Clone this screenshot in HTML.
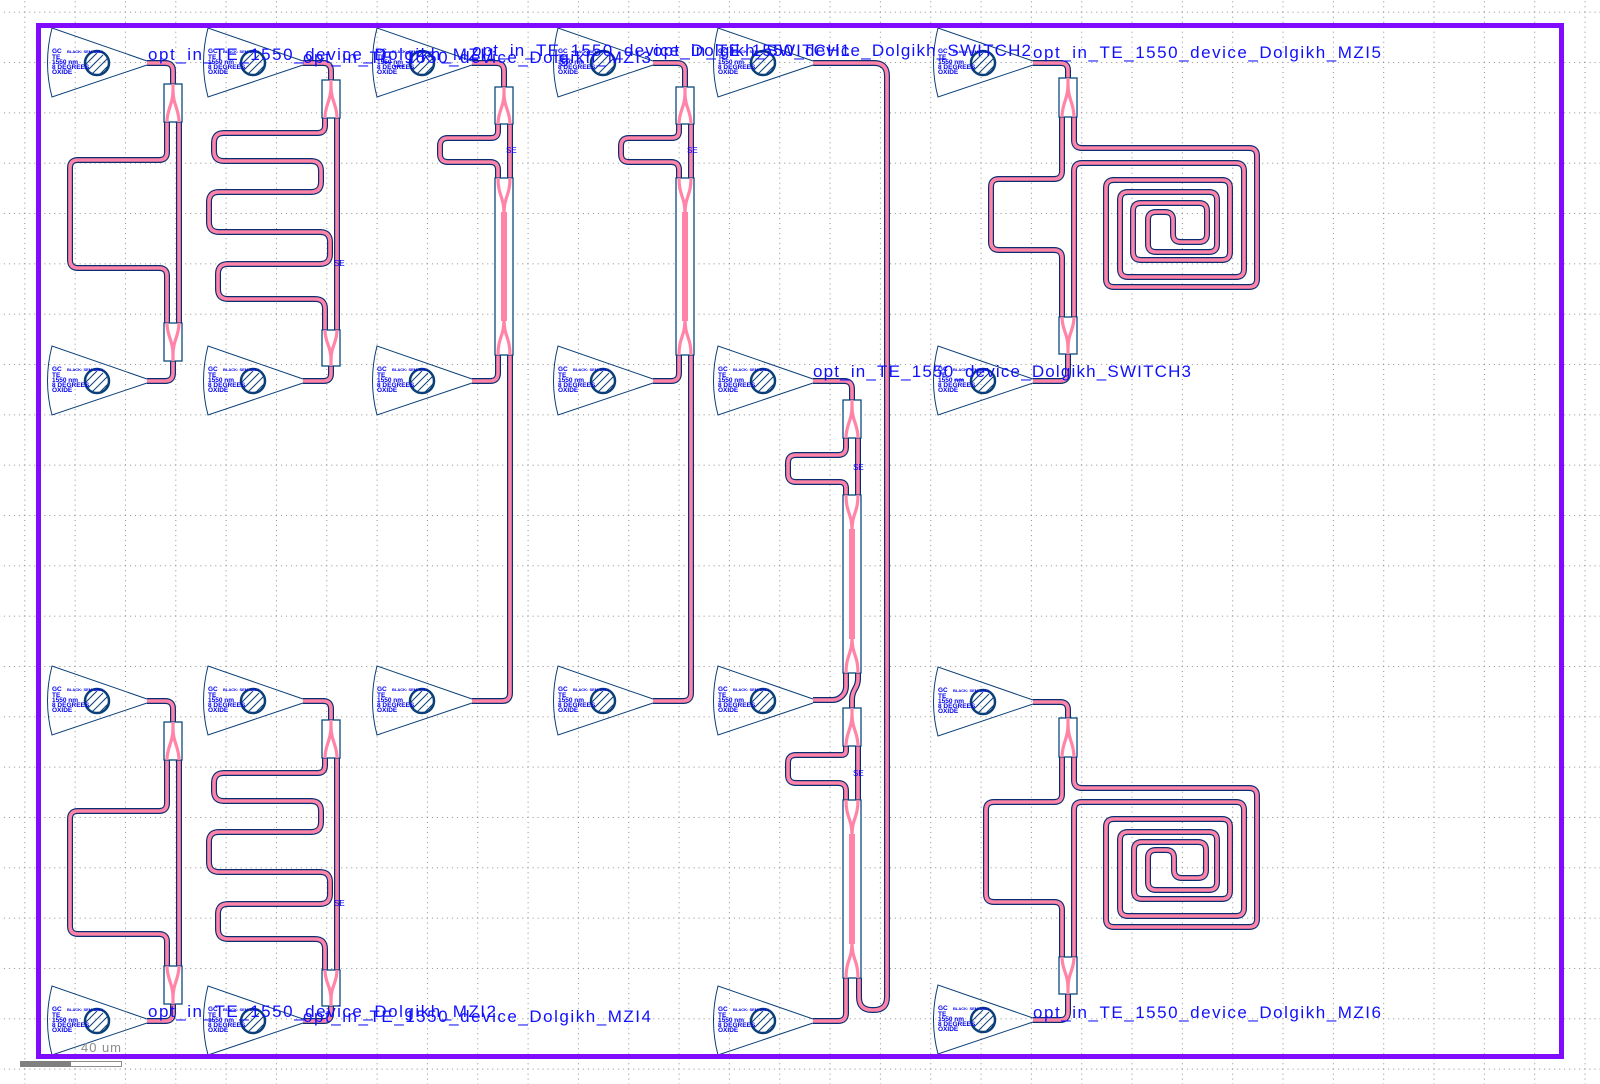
<!DOCTYPE html>
<html><head><meta charset="utf-8">
<style>
html,body{margin:0;padding:0;background:#fff;}
svg{display:block;}
.lbl{font-family:"Liberation Sans",sans-serif;font-size:17px;fill:#1010ff;}
.g1{font-family:"Liberation Sans",sans-serif;font-size:6.5px;font-weight:bold;fill:#0000ee;}
.g2{font-family:"Liberation Sans",sans-serif;font-size:4px;font-weight:bold;fill:#0000ee;}
.se{font-family:"Liberation Sans",sans-serif;font-size:8px;fill:#0000ff;}
</style></head>
<body>
<svg id="s" width="1600" height="1084" viewBox="0 0 1600 1084" xmlns="http://www.w3.org/2000/svg">
<defs>
<pattern id="grid" patternUnits="userSpaceOnUse" x="24.3" y="11.7" width="50.33" height="50.33">
<line x1="0" y1="0.5" x2="50.33" y2="0.5" stroke="#8a8a8a" stroke-width="1" stroke-dasharray="1 4"/>
<line x1="0.5" y1="0" x2="0.5" y2="50.33" stroke="#8a8a8a" stroke-width="1" stroke-dasharray="1 4"/>
</pattern>
<clipPath id="cc"><circle cx="-50" cy="0" r="11"/></clipPath>
<g id="gc">
<path d="M0,-2 L-95,-35 Q-104,0 -95,34 L0,2" fill="none" stroke="#0b3f78" stroke-width="1"/>
<g clip-path="url(#cc)" stroke="#0b3f78" stroke-width="1">
<line x1="-70" y1="10" x2="-50" y2="-10"/><line x1="-64" y1="12" x2="-44" y2="-8"/>
<line x1="-58" y1="14" x2="-38" y2="-6"/><line x1="-52" y1="16" x2="-32" y2="-4"/>
<line x1="-76" y1="8" x2="-56" y2="-12"/><line x1="-46" y1="18" x2="-26" y2="-2"/>
</g>
<circle cx="-50" cy="0" r="12" fill="none" stroke="#0b3f78" stroke-width="2.5"/>
</g>
</defs>
<rect x="0" y="0" width="1600" height="1084" fill="url(#grid)"/>
<g id="wg"></g>
<g id="bx"></g>

<!-- grating couplers -->
<use href="#gc" x="147" y="63"/><use href="#gc" x="147" y="381"/><use href="#gc" x="147" y="701"/><use href="#gc" x="147" y="1021"/>
<use href="#gc" x="303" y="63"/><use href="#gc" x="303" y="381"/><use href="#gc" x="303" y="701"/><use href="#gc" x="303" y="1021"/>
<use href="#gc" x="472" y="63"/><use href="#gc" x="472" y="381"/><use href="#gc" x="472" y="701"/>
<use href="#gc" x="653" y="63"/><use href="#gc" x="653" y="381"/><use href="#gc" x="653" y="701"/>
<use href="#gc" x="813" y="63"/><use href="#gc" x="813" y="381"/><use href="#gc" x="813" y="701"/><use href="#gc" x="813" y="1021"/>
<use href="#gc" x="1033" y="63"/><use href="#gc" x="1033" y="381"/><use href="#gc" x="1033" y="702"/><use href="#gc" x="1033" y="1020"/>

<g transform="translate(147,63)"><text class="g1" x="-95" y="-10">GC</text><text class="g2" x="-80" y="-10">BLACK: SEM-CELL</text><text class="g1" x="-95" y="-4">TE</text><text class="g1" x="-95" y="1">1550 nm</text><text class="g1" x="-95" y="6">8 DEGREES</text><text class="g1" x="-95" y="11">OXIDE</text></g>
<g transform="translate(147,381)"><text class="g1" x="-95" y="-10">GC</text><text class="g2" x="-80" y="-10">BLACK: SEM-CELL</text><text class="g1" x="-95" y="-4">TE</text><text class="g1" x="-95" y="1">1550 nm</text><text class="g1" x="-95" y="6">8 DEGREES</text><text class="g1" x="-95" y="11">OXIDE</text></g>
<g transform="translate(147,701)"><text class="g1" x="-95" y="-10">GC</text><text class="g2" x="-80" y="-10">BLACK: SEM-CELL</text><text class="g1" x="-95" y="-4">TE</text><text class="g1" x="-95" y="1">1550 nm</text><text class="g1" x="-95" y="6">8 DEGREES</text><text class="g1" x="-95" y="11">OXIDE</text></g>
<g transform="translate(147,1021)"><text class="g1" x="-95" y="-10">GC</text><text class="g2" x="-80" y="-10">BLACK: SEM-CELL</text><text class="g1" x="-95" y="-4">TE</text><text class="g1" x="-95" y="1">1550 nm</text><text class="g1" x="-95" y="6">8 DEGREES</text><text class="g1" x="-95" y="11">OXIDE</text></g>
<g transform="translate(303,63)"><text class="g1" x="-95" y="-10">GC</text><text class="g2" x="-80" y="-10">BLACK: SEM-CELL</text><text class="g1" x="-95" y="-4">TE</text><text class="g1" x="-95" y="1">1550 nm</text><text class="g1" x="-95" y="6">8 DEGREES</text><text class="g1" x="-95" y="11">OXIDE</text></g>
<g transform="translate(303,381)"><text class="g1" x="-95" y="-10">GC</text><text class="g2" x="-80" y="-10">BLACK: SEM-CELL</text><text class="g1" x="-95" y="-4">TE</text><text class="g1" x="-95" y="1">1550 nm</text><text class="g1" x="-95" y="6">8 DEGREES</text><text class="g1" x="-95" y="11">OXIDE</text></g>
<g transform="translate(303,701)"><text class="g1" x="-95" y="-10">GC</text><text class="g2" x="-80" y="-10">BLACK: SEM-CELL</text><text class="g1" x="-95" y="-4">TE</text><text class="g1" x="-95" y="1">1550 nm</text><text class="g1" x="-95" y="6">8 DEGREES</text><text class="g1" x="-95" y="11">OXIDE</text></g>
<g transform="translate(303,1021)"><text class="g1" x="-95" y="-10">GC</text><text class="g2" x="-80" y="-10">BLACK: SEM-CELL</text><text class="g1" x="-95" y="-4">TE</text><text class="g1" x="-95" y="1">1550 nm</text><text class="g1" x="-95" y="6">8 DEGREES</text><text class="g1" x="-95" y="11">OXIDE</text></g>
<g transform="translate(472,63)"><text class="g1" x="-95" y="-10">GC</text><text class="g2" x="-80" y="-10">BLACK: SEM-CELL</text><text class="g1" x="-95" y="-4">TE</text><text class="g1" x="-95" y="1">1550 nm</text><text class="g1" x="-95" y="6">8 DEGREES</text><text class="g1" x="-95" y="11">OXIDE</text></g>
<g transform="translate(472,381)"><text class="g1" x="-95" y="-10">GC</text><text class="g2" x="-80" y="-10">BLACK: SEM-CELL</text><text class="g1" x="-95" y="-4">TE</text><text class="g1" x="-95" y="1">1550 nm</text><text class="g1" x="-95" y="6">8 DEGREES</text><text class="g1" x="-95" y="11">OXIDE</text></g>
<g transform="translate(472,701)"><text class="g1" x="-95" y="-10">GC</text><text class="g2" x="-80" y="-10">BLACK: SEM-CELL</text><text class="g1" x="-95" y="-4">TE</text><text class="g1" x="-95" y="1">1550 nm</text><text class="g1" x="-95" y="6">8 DEGREES</text><text class="g1" x="-95" y="11">OXIDE</text></g>
<g transform="translate(653,63)"><text class="g1" x="-95" y="-10">GC</text><text class="g2" x="-80" y="-10">BLACK: SEM-CELL</text><text class="g1" x="-95" y="-4">TE</text><text class="g1" x="-95" y="1">1550 nm</text><text class="g1" x="-95" y="6">8 DEGREES</text><text class="g1" x="-95" y="11">OXIDE</text></g>
<g transform="translate(653,381)"><text class="g1" x="-95" y="-10">GC</text><text class="g2" x="-80" y="-10">BLACK: SEM-CELL</text><text class="g1" x="-95" y="-4">TE</text><text class="g1" x="-95" y="1">1550 nm</text><text class="g1" x="-95" y="6">8 DEGREES</text><text class="g1" x="-95" y="11">OXIDE</text></g>
<g transform="translate(653,701)"><text class="g1" x="-95" y="-10">GC</text><text class="g2" x="-80" y="-10">BLACK: SEM-CELL</text><text class="g1" x="-95" y="-4">TE</text><text class="g1" x="-95" y="1">1550 nm</text><text class="g1" x="-95" y="6">8 DEGREES</text><text class="g1" x="-95" y="11">OXIDE</text></g>
<g transform="translate(813,63)"><text class="g1" x="-95" y="-10">GC</text><text class="g2" x="-80" y="-10">BLACK: SEM-CELL</text><text class="g1" x="-95" y="-4">TE</text><text class="g1" x="-95" y="1">1550 nm</text><text class="g1" x="-95" y="6">8 DEGREES</text><text class="g1" x="-95" y="11">OXIDE</text></g>
<g transform="translate(813,381)"><text class="g1" x="-95" y="-10">GC</text><text class="g2" x="-80" y="-10">BLACK: SEM-CELL</text><text class="g1" x="-95" y="-4">TE</text><text class="g1" x="-95" y="1">1550 nm</text><text class="g1" x="-95" y="6">8 DEGREES</text><text class="g1" x="-95" y="11">OXIDE</text></g>
<g transform="translate(813,701)"><text class="g1" x="-95" y="-10">GC</text><text class="g2" x="-80" y="-10">BLACK: SEM-CELL</text><text class="g1" x="-95" y="-4">TE</text><text class="g1" x="-95" y="1">1550 nm</text><text class="g1" x="-95" y="6">8 DEGREES</text><text class="g1" x="-95" y="11">OXIDE</text></g>
<g transform="translate(813,1021)"><text class="g1" x="-95" y="-10">GC</text><text class="g2" x="-80" y="-10">BLACK: SEM-CELL</text><text class="g1" x="-95" y="-4">TE</text><text class="g1" x="-95" y="1">1550 nm</text><text class="g1" x="-95" y="6">8 DEGREES</text><text class="g1" x="-95" y="11">OXIDE</text></g>
<g transform="translate(1033,63)"><text class="g1" x="-95" y="-10">GC</text><text class="g2" x="-80" y="-10">BLACK: SEM-CELL</text><text class="g1" x="-95" y="-4">TE</text><text class="g1" x="-95" y="1">1550 nm</text><text class="g1" x="-95" y="6">8 DEGREES</text><text class="g1" x="-95" y="11">OXIDE</text></g>
<g transform="translate(1033,381)"><text class="g1" x="-95" y="-10">GC</text><text class="g2" x="-80" y="-10">BLACK: SEM-CELL</text><text class="g1" x="-95" y="-4">TE</text><text class="g1" x="-95" y="1">1550 nm</text><text class="g1" x="-95" y="6">8 DEGREES</text><text class="g1" x="-95" y="11">OXIDE</text></g>
<g transform="translate(1033,702)"><text class="g1" x="-95" y="-10">GC</text><text class="g2" x="-80" y="-10">BLACK: SEM-CELL</text><text class="g1" x="-95" y="-4">TE</text><text class="g1" x="-95" y="1">1550 nm</text><text class="g1" x="-95" y="6">8 DEGREES</text><text class="g1" x="-95" y="11">OXIDE</text></g>
<g transform="translate(1033,1020)"><text class="g1" x="-95" y="-10">GC</text><text class="g2" x="-80" y="-10">BLACK: SEM-CELL</text><text class="g1" x="-95" y="-4">TE</text><text class="g1" x="-95" y="1">1550 nm</text><text class="g1" x="-95" y="6">8 DEGREES</text><text class="g1" x="-95" y="11">OXIDE</text></g>

<!-- small markers -->
<text class="se" x="334" y="266">SE</text>
<text class="se" x="334" y="906">SE</text>
<text class="se" x="506" y="153">SE</text>
<text class="se" x="687" y="153">SE</text>
<text class="se" x="853" y="470">SE</text>
<text class="se" x="853" y="776">SE</text>

<!-- labels -->
<text class="lbl" x="148" y="60" textLength="348" lengthAdjust="spacing">opt_in_TE_1550_device_Dolgikh_MZI1</text>
<text class="lbl" x="303" y="63" textLength="348" lengthAdjust="spacing">opt_in_TE_1550_device_Dolgikh_MZI3</text>
<text class="lbl" x="472" y="56" textLength="378" lengthAdjust="spacing">opt_in_TE_1550_device_Dolgikh_SWITCH1</text>
<text class="lbl" x="653" y="56" textLength="378" lengthAdjust="spacing">opt_in_TE_1550_device_Dolgikh_SWITCH2</text>
<text class="lbl" x="1033" y="58" textLength="348" lengthAdjust="spacing">opt_in_TE_1550_device_Dolgikh_MZI5</text>
<text class="lbl" x="813" y="377" textLength="378" lengthAdjust="spacing">opt_in_TE_1550_device_Dolgikh_SWITCH3</text>
<text class="lbl" x="148" y="1017" textLength="348" lengthAdjust="spacing">opt_in_TE_1550_device_Dolgikh_MZI2</text>
<text class="lbl" x="303" y="1022" textLength="348" lengthAdjust="spacing">opt_in_TE_1550_device_Dolgikh_MZI4</text>
<text class="lbl" x="1033" y="1018" textLength="348" lengthAdjust="spacing">opt_in_TE_1550_device_Dolgikh_MZI6</text>

<!-- border -->
<rect x="38.5" y="25.5" width="1523" height="1031" fill="none" stroke="#7f0cff" stroke-width="5"/>

<!-- scale bar -->
<text x="81" y="1052" font-family="Liberation Sans, sans-serif" font-size="13" fill="#8c8c8c" textLength="40" lengthAdjust="spacing">40 um</text>
<rect x="20.5" y="1061.5" width="101" height="5" fill="#fff" stroke="#8c8c8c" stroke-width="1"/>
<rect x="20" y="1061" width="51" height="6" fill="#808080"/>
</svg>
<script>
(function(){
var NS="http://www.w3.org/2000/svg";
var wg=document.getElementById("wg"), bx=document.getElementById("bx");
function rp(p,r){
  var d="M"+p[0][0]+","+p[0][1];
  for(var i=1;i<p.length-1;i++){
    var a=p[i-1],b=p[i],c=p[i+1];
    var l1=Math.hypot(b[0]-a[0],b[1]-a[1]),l2=Math.hypot(c[0]-b[0],c[1]-b[1]);
    var rr=Math.min(r,l1/2,l2/2);
    var u1=[(b[0]-a[0])/l1,(b[1]-a[1])/l1],u2=[(c[0]-b[0])/l2,(c[1]-b[1])/l2];
    d+=" L"+(b[0]-u1[0]*rr)+","+(b[1]-u1[1]*rr)+" Q"+b[0]+","+b[1]+" "+(b[0]+u2[0]*rr)+","+(b[1]+u2[1]*rr);
  }
  var e=p[p.length-1]; d+=" L"+e[0]+","+e[1]; return d;
}
function mk(par,d,st,w){var e=document.createElementNS(NS,"path");e.setAttribute("d",d);e.setAttribute("fill","none");e.setAttribute("stroke",st);e.setAttribute("stroke-width",w);par.appendChild(e);}
var W=[];
function W_(p,r){W.push(rp(p,r||8));}
// col1 top
W_([[147,63],[173,63],[173,84]]);
W_([[167,122],[167,160],[70,160],[70,268],[167,268],[167,323]]);
W_([[179,122],[179,323]]);
W_([[173,361],[173,381],[147,381]]);
// col1 bottom
W_([[147,701],[173,701],[173,722]]);
W_([[167,760],[167,811],[70,811],[70,934],[167,934],[167,966]]);
W_([[179,760],[179,966]]);
W_([[173,1004],[173,1021],[147,1021]]);
// col2 top & bottom
[0,640].forEach(function(s){
 var gy=s?701:63, oy=s?1021:381;
 W_([[303,gy],[331,gy],[331,80+s]]);
 W_([[325,118+s],[325,133+s],[214,133+s],[214,161+s],[321,161+s],[321,192+s],[209,192+s],[209,232+s],[330,232+s],[330,264+s],[218,264+s],[218,299+s],[325,299+s],[325,330+s]],10);
 W_([[337,118+s],[337,330+s]]);
 W_([[331,366+s],[331,oy],[303,oy]]);
});
// col3, col4
[0,181].forEach(function(s){
 W_([[472+s,63],[504+s,63],[504+s,87]]);
 W_([[498+s,124],[498+s,138],[440+s,138],[440+s,162],[498+s,162],[498+s,178]]);
 W_([[510+s,124],[510+s,178]]);
 W_([[498+s,355],[498+s,381],[472+s,381]]);
 W_([[510+s,355],[510+s,701],[472+s,701]]);
});
// col5
W_([[813,63],[887,63],[887,1010],[859,1010],[859,978]],13);
W_([[813,381],[852,381],[852,400]]);
W_([[846,438],[846,455],[788,455],[788,482],[846,482],[846,495]]);
W_([[858,438],[858,495]]);
W_([[846,673],[846,692],[838,700],[813,700]],6);
W_([[858,673],[858,684],[852,694],[852,708]],6);
W_([[846,746],[846,755],[788,755],[788,783],[846,783],[846,800]]);
W_([[858,746],[858,800]]);
W_([[846,978],[846,1021],[813,1021]]);
// col6 top
W_([[1033,63],[1068,63],[1068,78]]);
W_([[1062,117],[1062,179],[991,179],[991,250],[1062,250],[1062,317]]);
W_([[1074,117],[1074,148],[1257,148],[1257,287],[1106,287],[1106,180],[1230,180],[1230,260],[1133,260],[1133,203],[1207,203],[1207,242],[1173,242],[1173,212],[1148,212],[1148,252],[1217,252],[1217,192],[1120,192],[1120,277],[1244,277],[1244,163],[1074,163],[1074,317]]);
W_([[1068,354],[1068,381],[1033,381]]);
// col6 bottom
W_([[1033,702],[1068,702],[1068,718]]);
W_([[1062,757],[1062,802],[986,802],[986,902],[1062,902],[1062,957]]);
W_([[1074,757],[1074,788],[1257,788],[1257,927],[1106,927],[1106,819],[1230,819],[1230,899],[1134,899],[1134,842],[1206,842],[1206,878],[1174,878],[1174,850],[1148,850],[1148,890],[1217,890],[1217,832],[1120,832],[1120,916],[1244,916],[1244,802],[1074,802],[1074,957]]);
W_([[1068,994],[1068,1020],[1033,1020]]);
W.forEach(function(d){mk(wg,d,"#0a2d72",6);});
W.forEach(function(d){mk(wg,d,"#ff84a8",3.6);});
// boxes
function box(x1,x2,yt,yb,type){
 var r=document.createElementNS(NS,"rect");
 r.setAttribute("x",x1);r.setAttribute("y",yt);r.setAttribute("width",x2-x1);r.setAttribute("height",yb-yt);
 r.setAttribute("fill","#fff");r.setAttribute("stroke","#0b4a7e");r.setAttribute("stroke-width","1.3");bx.appendChild(r);
 var lx=x1+3,rx=x2-3,cx=(x1+x2)/2,h=yb-yt,d;
 if(type=="s"){
  d="M"+cx+","+yt+" L"+cx+","+(yt+6)+" C"+cx+","+(yt+h*0.55)+" "+lx+","+(yb-h*0.35)+" "+lx+","+yb+
    " M"+cx+","+(yt+6)+" C"+cx+","+(yt+h*0.55)+" "+rx+","+(yb-h*0.35)+" "+rx+","+yb;
  mk(bx,d,"#ff84a8",3.2);
 } else if(type=="m"){
  d="M"+cx+","+yb+" L"+cx+","+(yb-6)+" C"+cx+","+(yb-h*0.55)+" "+lx+","+(yt+h*0.35)+" "+lx+","+yt+
    " M"+cx+","+(yb-6)+" C"+cx+","+(yb-h*0.55)+" "+rx+","+(yt+h*0.35)+" "+rx+","+yt;
  mk(bx,d,"#ff84a8",3.2);
 } else {
  d="M"+lx+","+yt+" C"+lx+","+(yt+18)+" "+cx+","+(yt+18)+" "+cx+","+(yt+36)+
    " M"+rx+","+yt+" C"+rx+","+(yt+18)+" "+cx+","+(yt+18)+" "+cx+","+(yt+36)+
    " M"+lx+","+yb+" C"+lx+","+(yb-18)+" "+cx+","+(yb-18)+" "+cx+","+(yb-36)+
    " M"+rx+","+yb+" C"+rx+","+(yb-18)+" "+cx+","+(yb-18)+" "+cx+","+(yb-36);
  mk(bx,d,"#ff84a8",3.2);
  mk(bx,"M"+cx+","+(yt+34)+" L"+cx+","+(yb-34),"#ff84a8",6);
 }
}
box(164,182,84,122,"s");box(164,182,323,361,"m");
box(164,182,722,760,"s");box(164,182,966,1004,"m");
box(322,340,80,118,"s");box(322,340,330,366,"m");
box(322,340,720,758,"s");box(322,340,970,1006,"m");
box(495,513,87,124,"s");box(495,513,178,355,"l");
box(676,694,87,124,"s");box(676,694,178,355,"l");
box(843,861,400,438,"s");box(843,861,495,673,"l");
box(843,861,708,746,"s");box(843,861,800,978,"l");
box(1059,1077,78,117,"s");box(1059,1077,317,354,"m");
box(1059,1077,718,757,"s");box(1059,1077,957,994,"m");
})();
</script>
</body></html>
